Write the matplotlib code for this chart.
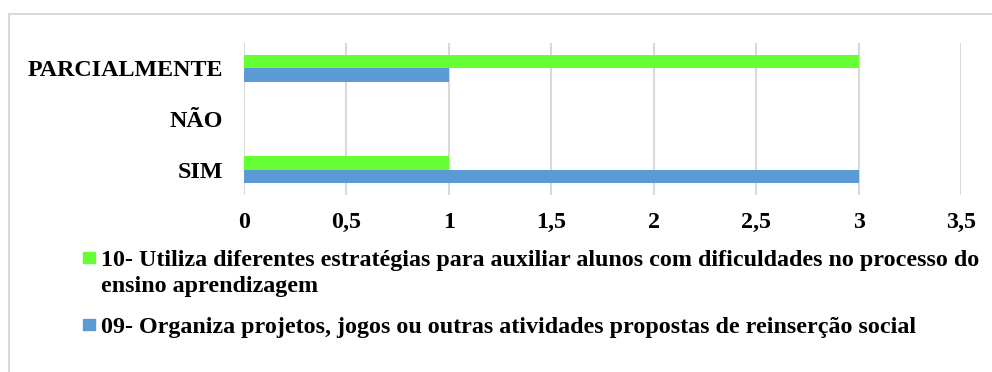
import matplotlib
matplotlib.use("Agg")
import matplotlib.pyplot as plt
from matplotlib.patches import Rectangle
from matplotlib.lines import Line2D

categories = ["SIM", "NÃO", "PARCIALMENTE"]
serie_10 = [1, 0, 3]
serie_09 = [3, 0, 1]
label_10 = ("10- Utiliza diferentes estratégias para auxiliar alunos com dificuldades no processo do\n"
            "ensino aprendizagem")
label_09 = "09- Organiza projetos, jogos ou outras atividades propostas de reinserção social"
xticks = [0, 0.5, 1, 1.5, 2, 2.5, 3, 3.5]
xtick_labels = ["0", "0,5", "1", "1,5", "2", "2,5", "3", "3,5"]

color_10 = "#66FF33"
color_09 = "#5B9BD5"
font = dict(family="Liberation Serif", weight="bold")
fs = 17.3

W, H = 992, 372
fig = plt.figure(figsize=(W / 100, H / 100), dpi=100)
ax = fig.add_axes([244 / W, 1 - 195 / H, (961 - 244) / W, (195 - 43) / H])

h = 0.26
pos = list(range(len(categories)))
ax.barh([p + h / 2 for p in pos], serie_10, height=h, color=color_10, zorder=3)
ax.barh([p - h / 2 for p in pos], serie_09, height=h, color=color_09, zorder=3)

ax.set_xlim(0, 3.5)
ax.set_ylim(-0.5, 2.5)
ax.set_xticks(xticks)
ax.set_xticklabels(xtick_labels, fontsize=fs, **font)
ax.set_yticks(pos)
ax.set_yticklabels(categories, fontsize=fs, **font)
ax.tick_params(length=0)
ax.tick_params(axis="x", pad=12)
ax.tick_params(axis="y", pad=15)
ax.grid(axis="x", color="#D9D9D9", linewidth=1.5, zorder=0)
for s in ax.spines.values():
    s.set_visible(False)

# legend entries: (colour, label, baseline of first line in px from top)
entries = [(color_10, label_10, 266), (color_09, label_09, 333)]
line_step = 26
for col, txt, base in entries:
    fig.patches.append(Rectangle((83 / W, 1 - (base - 3) / H), 12 / W, 11.5 / H,
                                 transform=fig.transFigure, color=col))
    for i, line in enumerate(txt.split("\n")):
        fig.text(101 / W, 1 - (base + i * line_step) / H, line, fontsize=fs,
                 va="baseline", ha="left", **font)

# outer frame
fig.add_artist(Line2D([8.5 / W, 1], [1 - 13.5 / H] * 2, color="#D9D9D9", lw=1.5,
                      transform=fig.transFigure))
fig.add_artist(Line2D([8.5 / W] * 2, [0, 1 - 13.5 / H], color="#D9D9D9", lw=1.5,
                      transform=fig.transFigure))

fig.savefig("out.png", dpi=100)
